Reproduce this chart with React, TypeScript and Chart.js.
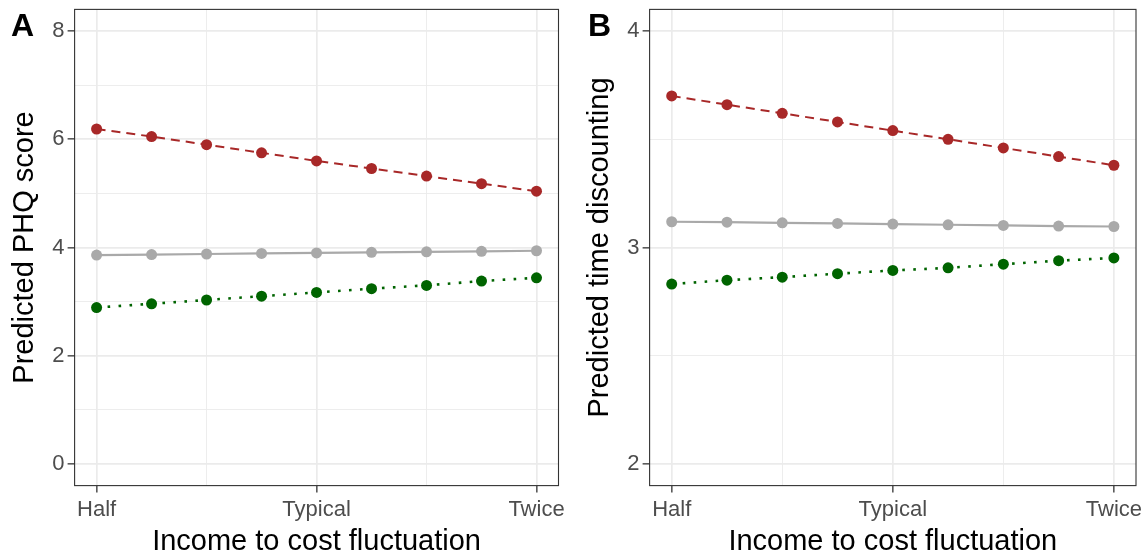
import React, { useEffect, useRef } from 'react';
import { Chart, registerables } from 'chart.js';

Chart.register(...registerables);

// ---------- data ----------
const fluctuationSteps = [0, 1, 2, 3, 4, 5, 6, 7, 8];
const xGridValues = [0, 2, 4, 6, 8];
const xMajorValues = [0, 4, 8];
const xTickLabels = ['Half', 'Typical', 'Twice'];

const phqRed = [6.19, 6.05, 5.9, 5.75, 5.6, 5.46, 5.32, 5.18, 5.04];
const phqGray = [3.86, 3.87, 3.88, 3.89, 3.9, 3.91, 3.92, 3.93, 3.94];
const phqGreen = [2.89, 2.96, 3.03, 3.1, 3.17, 3.24, 3.3, 3.38, 3.44];
const phqGridValues = [0, 1, 2, 3, 4, 5, 6, 7, 8];
const phqMajorValues = [0, 2, 4, 6, 8];

const discRed = [3.7, 3.66, 3.62, 3.58, 3.54, 3.5, 3.46, 3.42, 3.38];
const discGray = [3.119, 3.117, 3.114, 3.111, 3.108, 3.105, 3.102, 3.099, 3.097];
const discGreen = [2.831, 2.849, 2.863, 2.879, 2.894, 2.906, 2.923, 2.939, 2.952];
const discGridValues = [2, 2.5, 3, 3.5, 4];
const discMajorValues = [2, 3, 4];

const RED = '#A82828';
const GRAY = '#A9A9A9';
const GREEN = '#006400';
const FONT = "'Liberation Sans', Arial, sans-serif";

Chart.defaults.font.family = FONT;

type PanelSpec = {
  label: string;
  yTitle: string;
  yMin: number;
  yMax: number;
  yGrid: number[];
  yMajor: number[];
  red: number[];
  gray: number[];
  green: number[];
  padRight: number;
};

const isIn = (arr: number[], v: number) => arr.some((a) => Math.abs(a - v) < 1e-9);

function zeroPad(s: any) {
  s.paddingTop = 0;
  s.paddingBottom = 0;
  s.paddingLeft = 0;
  s.paddingRight = 0;
}

function buildConfig(p: PanelSpec): any {
  const mk = (values: number[], color: string, width: number, dash: number[]) => ({
    data: fluctuationSteps.map((x, i) => ({ x, y: values[i] })),
    borderColor: color,
    backgroundColor: color,
    borderWidth: width,
    borderDash: dash,
    borderCapStyle: 'butt',
    pointRadius: 5.5,
    pointHoverRadius: 5.5,
    pointBorderWidth: 0,
    pointBackgroundColor: color,
    tension: 0,
    fill: false,
  });

  const framePlugin = {
    id: 'frame' + p.label,
    afterDatasetsDraw(chart: any) {
      const { ctx, chartArea } = chart;
      ctx.save();
      ctx.strokeStyle = '#333333';
      ctx.lineWidth = 1.1;
      ctx.strokeRect(chartArea.left, chartArea.top, chartArea.right - chartArea.left, chartArea.bottom - chartArea.top);
      ctx.restore();
    },
    afterDraw(chart: any) {
      const { ctx } = chart;
      ctx.save();
      ctx.fillStyle = '#000';
      ctx.font = `bold 32px ${FONT}`;
      ctx.textBaseline = 'alphabetic';
      ctx.textAlign = 'left';
      ctx.fillText(p.label, p.label === 'A' ? 11 : 13, 36);
      ctx.restore();
    },
  };

  const gridCommon = (major: number[]) => ({
    color: '#EBEBEB',
    lineWidth: (c: any) => (c.tick && isIn(major, c.tick.value) ? 1.7 : 0.9),
    tickLength: 7,
    tickWidth: 1.3,
    tickColor: (c: any) => (c.tick && isIn(major, c.tick.value) ? '#333333' : 'rgba(0,0,0,0)'),
    drawTicks: true,
    drawOnChartArea: true,
  });

  return {
    type: 'line',
    data: {
      datasets: [
        mk(p.red, RED, 2, [9, 6]),
        mk(p.gray, GRAY, 2.2, []),
        mk(p.green, GREEN, 2.6, [2.6, 8.4]),
      ],
    },
    options: {
      responsive: false,
      animation: false,
      events: [],
      layout: { padding: { left: 0, top: 9.4, right: p.padRight, bottom: 0 } },
      plugins: {
        legend: { display: false },
        tooltip: { enabled: false },
        title: { display: false },
      },
      scales: {
        x: {
          type: 'linear',
          min: -0.4,
          max: 8.4,
          afterBuildTicks: (s: any) => {
            s.ticks = xGridValues.map((v) => ({ value: v }));
          },
          afterFit: (s: any) => {
            s.height = 70.4;
            zeroPad(s);
          },
          ticks: {
            autoSkip: false,
            maxRotation: 0,
            padding: 4,
            color: '#4D4D4D',
            font: { size: 22, family: FONT },
            callback: (v: number) => {
              const idx = xMajorValues.findIndex((m) => Math.abs(m - v) < 1e-9);
              return idx >= 0 ? xTickLabels[idx] : '';
            },
          },
          grid: gridCommon(xMajorValues),
          border: { display: false },
          title: {
            display: true,
            text: 'Income to cost fluctuation',
            color: '#000000',
            font: { size: 29, family: FONT, lineHeight: 1 },
            padding: { top: 0, bottom: 0 },
          },
        },
        y: {
          type: 'linear',
          min: p.yMin,
          max: p.yMax,
          afterBuildTicks: (s: any) => {
            s.ticks = p.yGrid.map((v) => ({ value: v }));
          },
          afterFit: (s: any) => {
            s.width = 74.6;
            zeroPad(s);
          },
          ticks: {
            autoSkip: false,
            padding: 3,
            color: '#4D4D4D',
            font: { size: 22, family: FONT },
            callback: (v: number) => (isIn(p.yMajor, v) ? String(v) : ''),
          },
          grid: gridCommon(p.yMajor),
          border: { display: false },
          title: {
            display: true,
            text: p.yTitle,
            color: '#000000',
            font: { size: 29, family: FONT, lineHeight: 1 },
            padding: { top: 10, bottom: 0 },
          },
        },
      },
    },
    plugins: [framePlugin],
  };
}

const panelA: PanelSpec = {
  label: 'A',
  yTitle: 'Predicted PHQ score',
  yMin: -0.4,
  yMax: 8.4,
  yGrid: phqGridValues,
  yMajor: phqMajorValues,
  red: phqRed,
  gray: phqGray,
  green: phqGreen,
  padRight: 16.5,
};

const panelB: PanelSpec = {
  label: 'B',
  yTitle: 'Predicted time discounting',
  yMin: 1.9,
  yMax: 4.1,
  yGrid: discGridValues,
  yMajor: discMajorValues,
  red: discRed,
  gray: discGray,
  green: discGreen,
  padRight: 11,
};

function Panel({ spec, left, width }: { spec: PanelSpec; left: number; width: number }) {
  const ref = useRef<HTMLCanvasElement | null>(null);
  useEffect(() => {
    if (!ref.current) return;
    const chart = new Chart(ref.current, buildConfig(spec));
    return () => chart.destroy();
  }, [spec]);
  return (
    <canvas
      ref={ref}
      width={width}
      height={556}
      style={{ position: 'absolute', left, top: 0, width, height: 556 }}
    />
  );
}

export default function App() {
  return (
    <div style={{ position: 'absolute', left: 0, top: 0, width: 1147, height: 556, background: '#ffffff' }}>
      <Panel spec={panelA} left={0} width={575} />
      <Panel spec={panelB} left={575} width={572} />
    </div>
  );
}
